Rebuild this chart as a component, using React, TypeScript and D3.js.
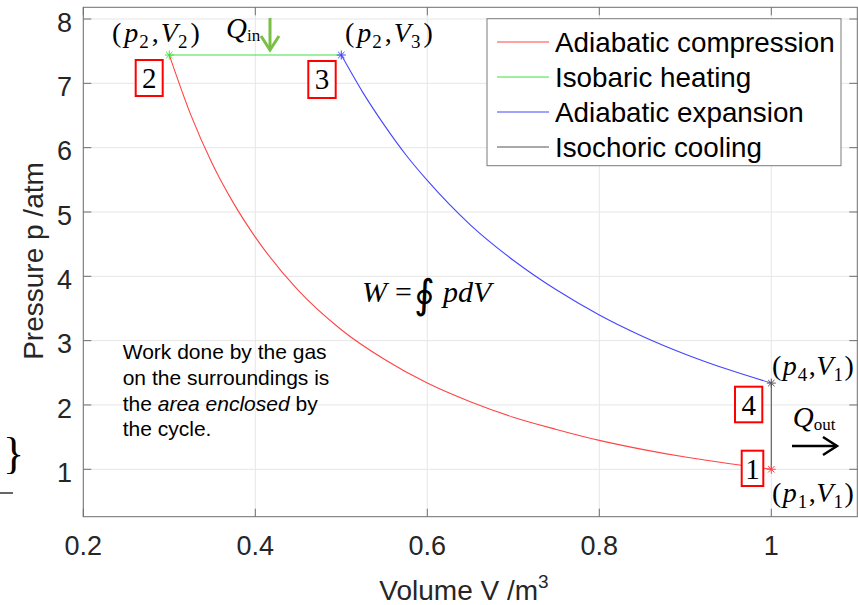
import React from 'react';
import * as d3 from 'd3';

// ---- data ----
const compressionV = [0.3, 0.325, 0.35, 0.375, 0.4, 0.45, 0.5, 0.55, 0.6, 0.65, 0.7, 0.75, 0.8, 0.85, 0.9, 0.95, 1.0];
const compressionP = [7.44, 6.51, 5.75, 5.13, 4.61, 3.78, 3.17, 2.71, 2.34, 2.05, 1.81, 1.62, 1.45, 1.31, 1.19, 1.09, 1.0];
const heatingV = [0.3, 0.5];
const heatingP = [7.44, 7.44];
const expansionV = [0.5, 0.525, 0.55, 0.575, 0.6, 0.65, 0.7, 0.75, 0.8, 0.85, 0.9, 0.95, 1.0];
const expansionP = [7.44, 6.86, 6.35, 5.89, 5.49, 4.8, 4.25, 3.79, 3.4, 3.07, 2.79, 2.55, 2.34];
const coolingV = [1.0, 1.0];
const coolingP = [2.34, 1.0];

const stateV = [1.0, 0.3, 0.5, 1.0];
const stateP = [1.0, 7.44, 7.44, 2.34];

const xTicks = [0.2, 0.4, 0.6, 0.8, 1];
const xTickLabels = ['0.2', '0.4', '0.6', '0.8', '1'];
const yTicks = [1, 2, 3, 4, 5, 6, 7, 8];
const yTickLabels = ['1', '2', '3', '4', '5', '6', '7', '8'];
const legendLabels = ['Adiabatic compression', 'Isobaric heating', 'Adiabatic expansion', 'Isochoric cooling'];

// ---- styles ----
const seriesColors = ['#ff4545', '#3fe03f', '#4545ff', '#555555'];
const SANS = '"Liberation Sans", Arial, Helvetica, sans-serif';
const SERIF = '"Liberation Serif", "Times New Roman", "DejaVu Serif", serif';
const TEXT = '#262626';

function Asterisk({ cx, cy, color }: { cx: number; cy: number; color: string }) {
  const r = 4.5, d = 3.2;
  return (
    <path
      d={`M${cx - r},${cy}H${cx + r}M${cx},${cy - r}V${cy + r}M${cx - d},${cy - d}L${cx + d},${cy + d}M${cx - d},${cy + d}L${cx + d},${cy - d}`}
      stroke={color}
      strokeWidth={1}
      fill="none"
    />
  );
}

function PointLabel({ x, y, p, v, gap }: { x: number; y: number; p: string; v: string; gap: number }) {
  return (
    <text x={x} y={y} fontFamily={SERIF} fontSize={28} fill="#000">
      <tspan>(</tspan>
      <tspan dx={gap} fontStyle="italic">p</tspan>
      <tspan dx={1} dy={6} fontSize={19}>{p}</tspan>
      <tspan dx={gap} dy={-6}>,</tspan>
      <tspan dx={gap - 1} fontStyle="italic">V</tspan>
      <tspan dx={0} dy={6} fontSize={19}>{v}</tspan>
      <tspan dx={gap} dy={-6}>)</tspan>
    </text>
  );
}

function BoxLabel({ x, y, w, h, label, baseline }: { x: number; y: number; w: number; h: number; label: string; baseline: number }) {
  return (
    <g>
      <rect x={x} y={y} width={w} height={h} fill="white" stroke="#ff0000" strokeWidth={2} />
      <text x={x + w / 2} y={baseline} textAnchor="middle" fontFamily={SERIF} fontSize={29} fill="#000">
        {label}
      </text>
    </g>
  );
}

export default function App() {
  const width = 858;
  const height = 605;
  const left = 83.3, right = 857.3, top = 7.3, bottom = 516.7;

  const x = d3.scaleLinear().domain([0.2, 1.1]).range([left, right]);
  const y = d3.scaleLinear().domain([0.263, 8.182]).range([bottom, top]);

  const curve = d3
    .line<[number, number]>()
    .x((d) => x(d[0]))
    .y((d) => y(d[1]))
    .curve(d3.curveMonotoneX);
  const straight = d3
    .line<[number, number]>()
    .x((d) => x(d[0]))
    .y((d) => y(d[1]));

  const zip = (a: number[], b: number[]) => a.map((v, i) => [v, b[i]] as [number, number]);

  const series = [
    { path: curve(zip(compressionV, compressionP)), color: seriesColors[0] },
    { path: straight(zip(heatingV, heatingP)), color: seriesColors[1] },
    { path: curve(zip(expansionV, expansionP)), color: seriesColors[2] },
    { path: straight(zip(coolingV, coolingP)), color: seriesColors[3] },
  ];

  const tickLen = 8;
  const legendX = 487, legendY = 18.7, legendW = 354, legendH = 147;
  const rowY0 = 42, rowStep = 35;

  return (
    <svg
      width={width}
      height={height}
      style={{ position: 'absolute', left: 0, top: 0, background: '#fff' }}
    >
      <rect x={0} y={0} width={width} height={height} fill="#fff" />

      {/* grid */}
      <g stroke="#e6e6e6" strokeWidth={1}>
        {xTicks.map((t) => (
          <line key={'gx' + t} x1={x(t)} x2={x(t)} y1={top} y2={bottom} />
        ))}
        {yTicks.map((t) => (
          <line key={'gy' + t} x1={left} x2={right} y1={y(t)} y2={y(t)} />
        ))}
      </g>

      {/* axes box */}
      <rect x={left} y={top} width={right - left} height={bottom - top} fill="none" stroke="#6e6e6e" strokeWidth={1} />

      {/* ticks */}
      <g stroke="#6e6e6e" strokeWidth={1}>
        {xTicks.map((t) => (
          <g key={'tx' + t}>
            <line x1={x(t)} x2={x(t)} y1={bottom} y2={bottom - tickLen} />
            <line x1={x(t)} x2={x(t)} y1={top} y2={top + tickLen} />
          </g>
        ))}
        {yTicks.map((t) => (
          <g key={'ty' + t}>
            <line x1={left} x2={left + tickLen} y1={y(t)} y2={y(t)} />
            <line x1={right} x2={right - tickLen} y1={y(t)} y2={y(t)} />
          </g>
        ))}
      </g>

      {/* tick labels */}
      <g fontFamily={SANS} fontSize={27} fill={TEXT}>
        {xTicks.map((t, i) => (
          <text key={'lx' + t} x={x(t)} y={555} textAnchor="middle">
            {xTickLabels[i]}
          </text>
        ))}
        {yTicks.map((t, i) => (
          <text key={'ly' + t} x={72} y={y(t) + 12.7} textAnchor="end">
            {yTickLabels[i]}
          </text>
        ))}
      </g>

      {/* axis labels */}
      <text x={464} y={600} textAnchor="middle" fontFamily={SANS} fontSize={28} fill={TEXT}>
        Volume V /m
        <tspan fontSize={19} dy={-12}>3</tspan>
      </text>
      <text
        transform={`translate(43, 261) rotate(-90)`}
        textAnchor="middle"
        fontFamily={SANS}
        fontSize={28}
        fill={TEXT}
      >
        Pressure p /atm
      </text>

      {/* series */}
      {series.map((s, i) => (
        <path key={'s' + i} d={s.path || ''} fill="none" stroke={s.color} strokeWidth={1.1} />
      ))}

      {/* state markers */}
      <Asterisk cx={x(stateV[0])} cy={y(stateP[0])} color={seriesColors[0]} />
      <Asterisk cx={x(stateV[1])} cy={y(stateP[1])} color={seriesColors[1]} />
      <Asterisk cx={x(stateV[2])} cy={y(stateP[2])} color={seriesColors[2]} />
      <Asterisk cx={x(stateV[3])} cy={y(stateP[3])} color={seriesColors[3]} />

      {/* state labels */}
      <PointLabel x={112} y={42} p="2" v="2" gap={3} />
      <PointLabel x={345} y={42} p="2" v="3" gap={3} />
      <PointLabel x={772} y={375} p="4" v="1" gap={1.5} />
      <PointLabel x={772} y={502} p="1" v="1" gap={1.5} />

      <BoxLabel x={135.7} y={60} w={27} h={36} label="2" baseline={88} />
      <BoxLabel x={308.3} y={61} w={27.4} h={37} label="3" baseline={89} />
      <BoxLabel x={735} y={386.7} w={27.3} h={35.6} label="4" baseline={415} />
      <BoxLabel x={741.7} y={450.7} w={21.6} h={35.3} label="1" baseline={479} />

      {/* Q_in */}
      <text x={226} y={38} fontFamily={SERIF} fontSize={29} fontStyle="italic" fill="#000">
        Q
        <tspan fontStyle="normal" fontSize={17} dy={3}>in</tspan>
      </text>
      <g stroke="#78c043" strokeWidth={3} fill="none">
        <line x1={270} y1={18} x2={270} y2={50} />
        <polyline points="261,36 270,50 279,36" />
      </g>

      {/* Q_out */}
      <text x={792.7} y={427} fontFamily={SERIF} fontSize={29} fontStyle="italic" fill="#000">
        Q
        <tspan fontStyle="normal" fontSize={17} dy={3}>out</tspan>
      </text>
      <g stroke="#000" strokeWidth={2.5} fill="none">
        <line x1={792} y1={446} x2={837} y2={446} />
        <polyline points="823,437 837,446 823,455" />
      </g>

      {/* work formula */}
      <g fontFamily={SERIF} fill="#000">
        <text x={362} y={302} fontSize={30} fontStyle="italic">W</text>
        <text x={395} y={302} fontSize={30}>=</text>
        <text x={414} y={308} fontSize={40} fontWeight={300}>∮</text>
        <text x={443} y={302} fontSize={30} fontStyle="italic">pdV</text>
      </g>

      {/* explanatory note */}
      <text fontFamily={SANS} fontSize={21} fill="#000">
        <tspan x={122.7} y={359}>Work done by the gas</tspan>
        <tspan x={122.7} y={385}>on the surroundings is</tspan>
        <tspan x={122.7} y={410.5}>
          the <tspan fontStyle="italic">area enclosed</tspan> by
        </tspan>
        <tspan x={122.7} y={436}>the cycle.</tspan>
      </text>

      {/* legend */}
      <rect x={legendX} y={legendY} width={legendW} height={legendH} fill="#fff" stroke="#7a7a7a" strokeWidth={1} />
      {legendLabels.map((lab, i) => {
        const cy = rowY0 + i * rowStep;
        return (
          <g key={'lg' + i}>
            <line x1={497} x2={549} y1={cy} y2={cy} stroke={seriesColors[i]} strokeWidth={1.1} />
            <text x={555} y={cy + 9.5} fontFamily={SANS} fontSize={27.8} fill="#000">
              {lab}
            </text>
          </g>
        );
      })}

      {/* cropped fragments at the left edge */}
      <text x={3} y={468} fontFamily={SERIF} fontSize={44} fill="#000">
        {'}'}
      </text>
      <line x1={0} x2={13} y1={493} y2={493} stroke="#000" strokeWidth={1.2} />
    </svg>
  );
}
